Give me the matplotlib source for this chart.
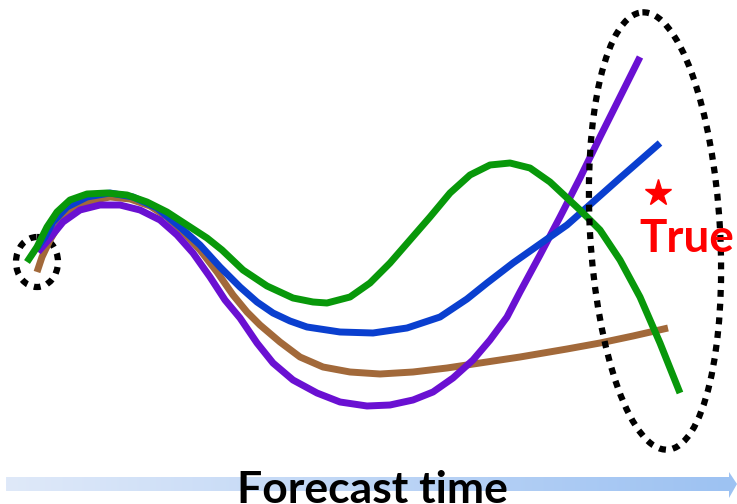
import numpy as np
import matplotlib
matplotlib.use('Agg')
import matplotlib.pyplot as plt
from matplotlib.patches import Ellipse, Polygon

# 曲线坐标（按图片像素读取，y 向下）
green_x = [27, 37, 47, 57, 70, 87, 107, 127, 147, 167, 187, 207, 222, 243, 267, 293, 313, 327,
           350, 370, 390, 410, 430, 450, 470, 490, 510, 530, 550, 565, 580, 600, 620, 640, 660, 680]
green_y = [262, 247, 227, 212, 200, 194, 193, 195, 202, 212, 225, 238, 250, 270, 286, 298, 302, 303,
           297, 283, 263, 240, 217, 193, 175, 165, 163, 168, 182, 196, 210, 230, 260, 297, 343, 393]

blue_x = [37, 45, 53, 67, 87, 110, 133, 157, 180, 200, 220, 240, 257, 273, 290, 307, 340, 373,
          407, 440, 467, 487, 513, 540, 567, 593, 620, 660]
blue_y = [248, 237, 222, 207, 197, 193, 197, 208, 227, 245, 267, 287, 302, 313, 321, 327, 332, 333,
          328, 317, 299, 283, 263, 244, 225, 202, 178, 143]

purple_x = [38, 50, 63, 80, 100, 120, 140, 160, 177, 193, 210, 225, 240, 257, 273, 293, 317, 340,
            367, 390, 413, 433, 453, 473, 490, 507, 520, 540, 560, 580, 600, 620, 640]
purple_y = [252, 238, 222, 210, 205, 205, 210, 220, 235, 253, 277, 300, 318, 343, 363, 380, 393, 402,
            406, 405, 400, 392, 378, 360, 340, 317, 292, 255, 217, 178, 137, 97, 57]

brown_x = [37, 42, 50, 60, 73, 90, 110, 130, 150, 167, 183, 200, 217, 233, 247, 260, 280, 300,
           323, 350, 380, 413, 447, 480, 520, 567, 600, 633, 668]
brown_y = [272, 257, 240, 223, 210, 201, 197, 199, 206, 217, 232, 250, 272, 295, 312, 325, 342, 357,
           367, 372, 374, 372, 368, 363, 357, 349, 343, 336, 328]

series = [
    (brown_x, brown_y, '#a2693a'),
    (purple_x, purple_y, '#6a10d2'),
    (blue_x, blue_y, '#0a3fcf'),
    (green_x, green_y, '#08980a'),
]

W, H = 737, 504
fig = plt.figure(figsize=(W / 100, H / 100), dpi=100)
ax = fig.add_axes([0, 0, 1, 1])
ax.axis('off')

# 起点小圈
ax.add_patch(Ellipse((37, 262), 42, 50, fill=False, edgecolor='black', lw=4.5,
                     linestyle=(0, (1.1, 1.1)), zorder=1))

for xs, ys, c in series:
    ax.plot(xs, ys, color=c, lw=5, solid_capstyle='butt', solid_joinstyle='round', zorder=2)

# 终点大圈
ax.add_patch(Ellipse((655, 231), 130, 438, angle=-3.3, fill=False, edgecolor='black', lw=4.5,
                     linestyle=(0, (1.1, 1.1)), zorder=3))

# 真值
ax.plot([658], [193], marker='*', color='red', ms=20, mec='red', zorder=4)
ax.text(687, 252, 'True', color='red', fontsize=33, fontweight='bold', family='Lato',
        ha='center', va='baseline', zorder=5)

# 时间轴箭头（渐变）
grad = np.linspace(0, 1, 256).reshape(1, -1)
cmap = matplotlib.colors.LinearSegmentedColormap.from_list('b', ['#dfe9f9', '#9dc2f2'])
ax.imshow(grad, cmap=cmap, extent=[6, 730, 491, 477], aspect='auto', zorder=0)
ax.add_patch(Polygon([[729, 472], [737, 484], [729, 498]], closed=True,
                     facecolor='#9dc2f2', edgecolor='none', zorder=0))
ax.set_xlim(0, W)
ax.set_ylim(H, 0)

ax.text(372, 503, 'Forecast time', color='black', fontsize=32, fontweight='bold', family='Lato',
        ha='center', va='baseline', zorder=5)

fig.savefig('out.png', dpi=100)
plt.close()
